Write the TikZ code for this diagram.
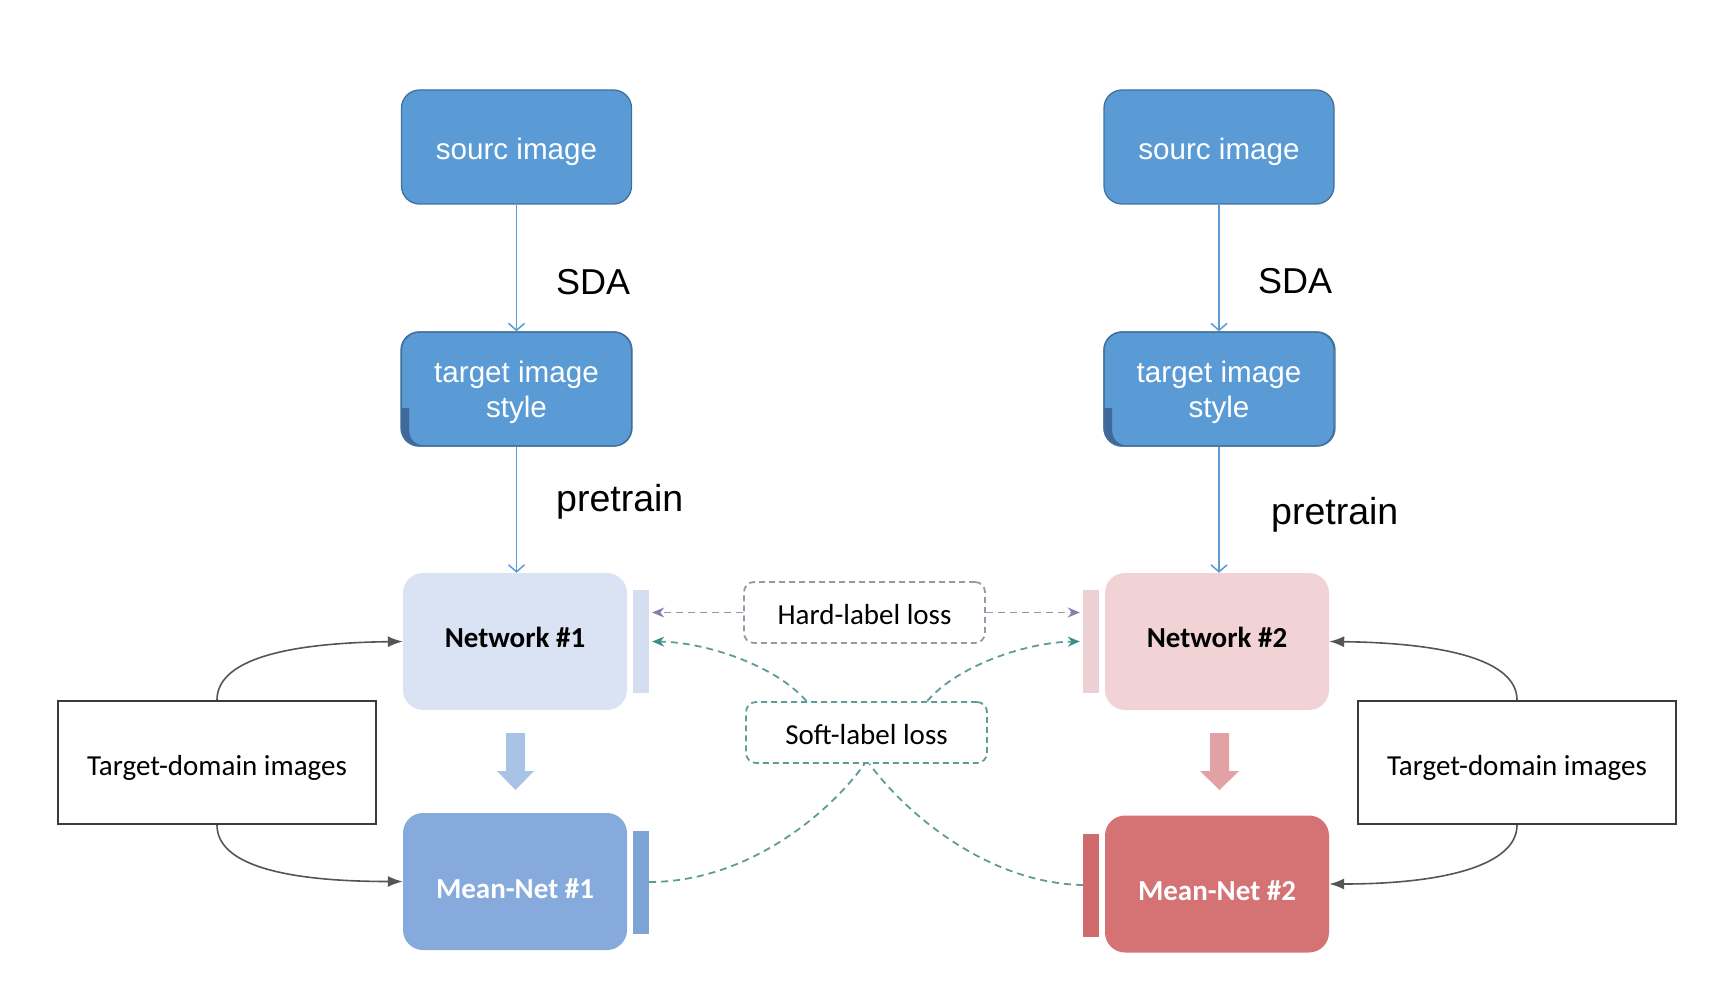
\documentclass[tikz,border=0pt]{standalone}
\usepackage{fontspec}
\setmainfont{Liberation Sans}
\newfontfamily\carl{Carlito}
\usetikzlibrary{arrows.meta,calc}
\definecolor{topblue}{HTML}{5B9BD5}
\definecolor{topborder}{HTML}{41719C}
\definecolor{foldblue}{HTML}{40699A}
\definecolor{netAfill}{HTML}{DAE3F3}
\definecolor{barA}{HTML}{D4DEF0}
\definecolor{meanAfill}{HTML}{86AADB}
\definecolor{meanAbar}{HTML}{7EA3D6}
\definecolor{blockblue}{HTML}{A8C3E5}
\definecolor{netBfill}{HTML}{F1D3D6}
\definecolor{barB}{HTML}{EDD0D3}
\definecolor{meanBfill}{HTML}{D57374}
\definecolor{meanBbar}{HTML}{D06B6D}
\definecolor{blockred}{HTML}{E2A1A5}
\definecolor{softteal}{HTML}{5E9C97}
\definecolor{tealhead}{HTML}{3E8E88}
\definecolor{hardgray}{HTML}{9B95A8}
\definecolor{hardpurple}{HTML}{8A7BB3}
\definecolor{tdgray}{HTML}{3A3A3A}
\definecolor{feedgray}{HTML}{555555}
\tikzset{
 topbox/.style={rectangle, rounded corners=18pt, fill=topblue, draw=topborder, line width=1.3pt, minimum width=230pt, minimum height=114pt, text=white, font=\fontsize{29.6}{35}\selectfont, inner sep=0pt},
 netbox/.style={rectangle, rounded corners=20pt, minimum width=224pt, minimum height=137pt, inner sep=0pt, font=\carl\bfseries\fontsize{29}{34}\selectfont},
 sidebar/.style={rectangle, minimum width=16pt, minimum height=103pt, inner sep=0pt},
 lossbox/.style={rectangle, rounded corners=10pt, line width=1.8pt, dash pattern=on 6pt off 4pt, minimum width=241pt, minimum height=61pt, font=\carl\fontsize{29}{34}\selectfont, inner sep=0pt},
 tdbox/.style={rectangle, draw=tdgray, line width=2pt, minimum width=318pt, minimum height=123pt, font=\carl\fontsize{29}{34}\selectfont, inner sep=0pt},
 blueflow/.style={draw=topblue, line width=1.5pt, -{Straight Barb[length=7pt,width=16pt]}},
 feed/.style={draw=feedgray, line width=1.6pt, -{Latex[length=15pt,width=11pt]}},
 softline/.style={draw=softteal, line width=1.8pt, dash pattern=on 7pt off 5pt},
 softarrow/.style={softline, -{Stealth[length=12pt,width=10pt,color=tealhead]}, shorten >=3pt},
 hardline/.style={draw=hardgray, line width=1.8pt, dash pattern=on 7pt off 5pt, -{Stealth[length=12pt,width=10pt,color=hardpurple]}, shorten >=3pt},
 sdalabel/.style={font=\fontsize{36}{40}\selectfont, anchor=west, inner sep=0pt},
 prelabel/.style={font=\fontsize{37.5}{40}\selectfont, anchor=west, inner sep=0pt},
}
\newcommand{\shifttext}[2]{\raisebox{#1}[\height][\depth]{#2}}
\newcommand{\tgttext}{\shifttext{-3.5pt}{\begin{tabular}{@{}c@{}}target image\\style\end{tabular}}}
\begin{document}
\begin{tikzpicture}[x=1pt,y=-1pt]
\useasboundingbox (0,0) rectangle (1716,1000);
% top boxes
\node[topbox] (srcA) at (516.5,147) {\shifttext{-4.5pt}{sourc image}};
\node[topbox] (tgtA) at (516.5,389) {\tgttext};
\node[topbox] (srcB) at (1219,147) {\shifttext{-4.5pt}{sourc image}};
\node[topbox] (tgtB) at (1219,389) {\tgttext};
% folds in target boxes
\foreach \x in {401,1104}{
 \begin{scope}
 \clip[rounded corners=18pt] (\x,332) rectangle ++(231,114);
 \fill[foldblue] (\x,408) -- ++(8,0) -- ++(0,20) .. controls ++(0,12) and ++(-14,0) .. ++(20,18) -- (\x,446) -- cycle;
 \end{scope}
 \draw[topborder, line width=1.3pt, rounded corners=18pt] (\x,332) rectangle ++(231,114);
}
% labels
\node[sdalabel] (sdaA) at (556,282) {SDA};
\node[prelabel] (preA) at (556,502) {pretrain};
\node[sdalabel] (sdaB) at (1258,281) {SDA};
\node[prelabel] (preB) at (1271,515) {pretrain};
% networks
\node[netbox, fill=netAfill, text=black] (netA) at (515,641.5) {\shifttext{4.5pt}{Network \#1}};
\node[sidebar, fill=barA] (barNA) at (641,641.5) {};
\node[netbox, fill=meanAfill, text=white] (meanA) at (515,881.5) {\shifttext{-7.5pt}{Mean-Net \#1}};
\node[sidebar, fill=meanAbar] (barMA) at (641,882) {};
\node[netbox, fill=netBfill, text=black] (netB) at (1217,641.5) {\shifttext{4.5pt}{Network \#2}};
\node[sidebar, fill=barB] (barNB) at (1091,641.5) {};
\node[netbox, fill=meanBfill, text=white] (meanB) at (1217,884) {\shifttext{-6.5pt}{Mean-Net \#2}};
\node[sidebar, fill=meanBbar] (barMB) at (1091,885) {};
% block arrows
\fill[blockblue] (506,733) -- (525,733) -- (525,771) -- (534,771) -- (515.5,790) -- (497,771) -- (506,771) -- cycle;
\fill[blockred] (1210,733) -- (1229,733) -- (1229,771) -- (1239,771) -- (1219.5,790) -- (1200,771) -- (1210,771) -- cycle;
% loss boxes
\node[lossbox, draw=hardgray] (hard) at (864.5,612.5) {\shifttext{-2pt}{Hard-label loss}};
\node[lossbox, draw=softteal] (soft) at (866.5,732.5) {\shifttext{-2pt}{Soft-label loss}};
% target-domain boxes
\node[tdbox] (tdA) at (217,762.5) {\shifttext{-5.5pt}{Target-domain images}};
\node[tdbox] (tdB) at (1517,762.5) {\shifttext{-5.5pt}{Target-domain images}};
% blue flow arrows
\draw[blueflow] (srcA) -- (tgtA);
\draw[blueflow] (tgtA.south) -- (tgtA.south |- netA.north);
\draw[blueflow] (srcB) -- (tgtB);
\draw[blueflow] (tgtB.south) -- (tgtB.south |- netB.north);
% hard label
\draw[hardline] (hard.west) -- (hard.west -| barNA.east);
\draw[hardline] (hard.east) -- (hard.east -| barNB.west);
% soft label
\coordinate (sA) at ($(soft.north west)!0.253!(soft.north east)$);
\coordinate (sB) at ($(soft.north west)!0.75!(soft.north east)$);
\draw[softarrow] (sA) .. controls (775,665) and (705,642) .. (barNA.east);
\draw[softarrow] (sB) .. controls (958,665) and (1028,642) .. (barNB.west);
\draw[softline] (barMA.east) .. controls (750,882) and (832,810) .. ([xshift=-2pt]soft.south);
\draw[softline] (barMB.west) .. controls (985,883) and (903,810) .. ([xshift=3pt]soft.south);
% feed arrows
\draw[feed] (tdA.north) .. controls (217,660) and (285,643) .. (netA.west);
\draw[feed] (tdA.south) .. controls (217,865) and (285,881.5) .. (meanA.west);
\draw[feed] (tdB.north) .. controls (1517,660) and (1445,643) .. (netB.east);
\draw[feed] (tdB.south) .. controls (1517,865) and (1445,884) .. (meanB.east);
\end{tikzpicture}
\end{document}
